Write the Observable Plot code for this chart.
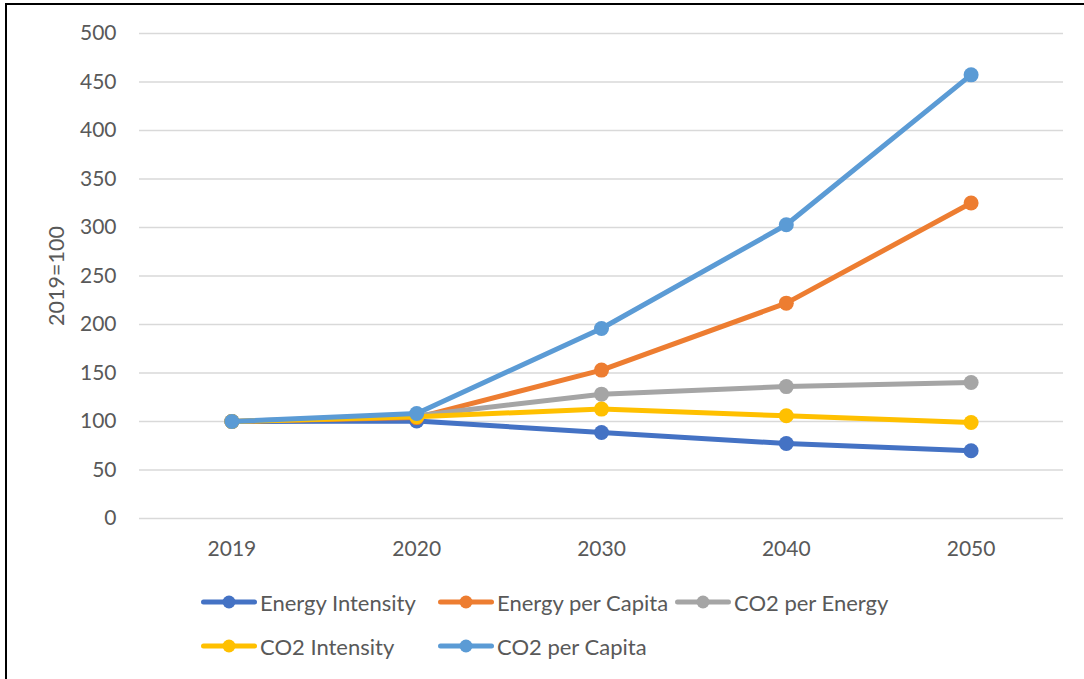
<!DOCTYPE html>
<html>
<head>
<meta charset="utf-8">
<script src="https://cdn.jsdelivr.net/npm/d3@7"></script>
<script src="https://cdn.jsdelivr.net/npm/@observablehq/plot@0.6"></script>
<style>
  html, body { margin: 0; padding: 0; background: #fff; }
  body { width: 1084px; height: 679px; position: relative; overflow: hidden;
         font-family: Lato, "Open Sans", sans-serif; }
  #frame { position: absolute; left: 5px; top: 3px; width: 1200px; height: 800px;
           border-left: 2px solid #000; border-top: 2px solid #000; pointer-events: none; }
  #chart { position: absolute; left: 0; top: 0; }
  .legend-item { position: absolute; display: flex; align-items: center; height: 24px;
                 font-size: 22px; color: #595959; white-space: nowrap; }
  .legend-item svg { display: block; margin-right: 3px; }
</style>
</head>
<body>
<div id="chart"></div>
<div id="legend"></div>
<div id="frame"></div>
<script>
// Index values, 2019 = 100
const years = ["2019", "2020", "2030", "2040", "2050"];
const seriesNames = ["Energy Intensity", "Energy per Capita", "CO2 per Energy", "CO2 Intensity", "CO2 per Capita"];
const seriesColors = ["#4472C4", "#ED7D31", "#A5A5A5", "#FFC000", "#5B9BD5"];

const energyIntensity = [100, 100.5, 88.7, 77.3, 69.8];
const energyPerCapita = [100, 104, 153, 222, 325.2];
const co2PerEnergy    = [100, 106, 128.2, 136, 140.2];
const co2Intensity    = [100, 105, 112.8, 105.9, 99];
const co2PerCapita    = [100, 108.2, 195.9, 302.8, 457.4];

const yTicks = d3.range(0, 501, 50);

const seriesValues = [energyIntensity, energyPerCapita, co2PerEnergy, co2Intensity, co2PerCapita];
const rows = seriesNames.map((name, i) =>
  years.map((year, j) => ({series: name, year, value: seriesValues[i][j]}))
);

// one line + markers per series, drawn in legend order so later series sit on top
const seriesMarks = rows.flatMap(data => [
  Plot.line(data, {x: "year", y: "value", stroke: "series", strokeWidth: 5, strokeLinejoin: "round"}),
  Plot.dot(data, {x: "year", y: "value", fill: "series", r: 7.5, stroke: null})
]);

const chart = Plot.plot({
  width: 1084,
  height: 570,
  marginLeft: 139,
  marginRight: 21,
  marginTop: 33,
  marginBottom: 52,
  style: {fontFamily: "Lato, 'Open Sans', sans-serif", fontSize: "21px", color: "#595959", background: "transparent"},
  x: {type: "point", domain: years, padding: 0.5, round: false},
  y: {domain: [0, 500]},
  color: {domain: seriesNames, range: seriesColors},
  marks: [
    Plot.gridY(yTicks.filter(d => d > 0), {stroke: "#d9d9d9", strokeOpacity: 1, strokeWidth: 1.5}),
    Plot.ruleY([0], {stroke: "#d9d9d9", strokeWidth: 1.5}),
    Plot.axisY(yTicks, {tickSize: 0, tickPadding: 23, label: null, fill: "#595959", fontSize: 21}),
    Plot.axisX({tickSize: 0, tickPadding: 23, label: null, fill: "#595959", fontSize: 21}),
    Plot.text(["2019=100"], {frameAnchor: "left", dx: -82, rotate: -90, fill: "#595959", fontSize: 21.5, textAnchor: "middle"}),
    ...seriesMarks
  ]
});
document.getElementById("chart").appendChild(chart);

// legend below the plot, two rows
const legendPos = [
  {x: 201, y: 602}, {x: 438, y: 602}, {x: 675, y: 602},
  {x: 201, y: 646}, {x: 438, y: 646}
];
const legend = document.getElementById("legend");
seriesNames.forEach((name, i) => {
  const item = document.createElement("div");
  item.className = "legend-item";
  item.style.left = legendPos[i].x + "px";
  item.style.top = (legendPos[i].y - 12) + "px";
  const c = seriesColors[i];
  item.innerHTML =
    `<svg width="56" height="24"><line x1="2.5" y1="12" x2="53.5" y2="12" stroke="${c}" stroke-width="5" stroke-linecap="round"/>` +
    `<circle cx="28" cy="12" r="6.5" fill="${c}"/></svg><span>${name}</span>`;
  legend.appendChild(item);
});
</script>
</body>
</html>
